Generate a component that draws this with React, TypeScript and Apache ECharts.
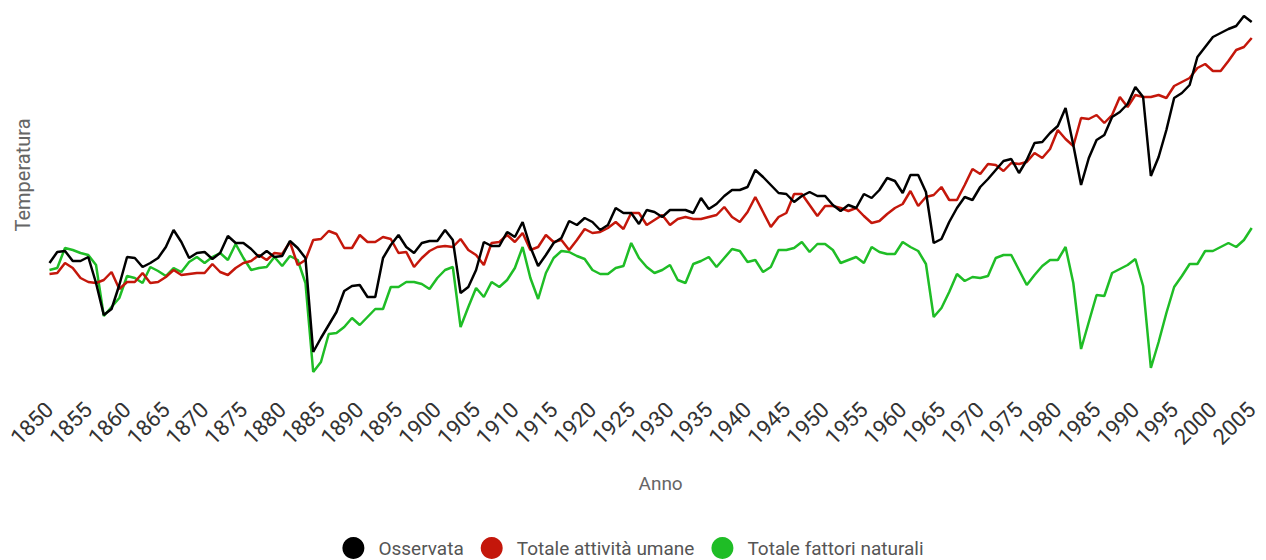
import React, { useEffect, useRef } from "react";
import * as echarts from "echarts";

const years: string[] = Array.from({ length: 156 }, (_, i) => String(1850 + i));

const osservata: number[] = [
  -0.052, -0.008, -0.004, -0.044, -0.044, -0.028, -0.132, -0.26, -0.236, -0.14,
  -0.028, -0.032, -0.068, -0.052, -0.032, 0.012, 0.08, 0.032, -0.032, -0.012,
  -0.008, -0.036, -0.012, 0.056, 0.028, 0.028, 0.004, -0.028, -0.004, -0.028,
  -0.024, 0.036, 0.008, -0.032, -0.408, -0.352, -0.3, -0.248, -0.164, -0.144,
  -0.14, -0.188, -0.188, -0.032, 0.02, 0.06, 0.012, -0.012, 0.028, 0.036,
  0.036, 0.08, 0.04, -0.172, -0.148, -0.08, 0.032, 0.016, 0.016, 0.072,
  0.052, 0.112, 0.012, -0.064, -0.02, 0.028, 0.048, 0.116, 0.1, 0.128,
  0.112, 0.08, 0.1, 0.168, 0.148, 0.148, 0.104, 0.16, 0.152, 0.132,
  0.16, 0.16, 0.16, 0.148, 0.208, 0.164, 0.184, 0.216, 0.24, 0.24,
  0.252, 0.32, 0.292, 0.26, 0.228, 0.224, 0.192, 0.216, 0.232, 0.216,
  0.216, 0.18, 0.156, 0.18, 0.168, 0.224, 0.208, 0.24, 0.288, 0.276,
  0.228, 0.3, 0.3, 0.232, 0.028, 0.044, 0.112, 0.168, 0.212, 0.2,
  0.252, 0.284, 0.32, 0.356, 0.364, 0.308, 0.36, 0.428, 0.432, 0.468,
  0.496, 0.568, 0.42, 0.26, 0.368, 0.44, 0.46, 0.532, 0.552, 0.584,
  0.652, 0.612, 0.296, 0.372, 0.48, 0.608, 0.628, 0.66, 0.772, 0.812,
  0.852, 0.868, 0.884, 0.896, 0.936, 0.912,
];

const attivitaUmane: number[] = [
  -0.096, -0.092, -0.052, -0.072, -0.112, -0.128, -0.132, -0.12, -0.088, -0.156,
  -0.128, -0.128, -0.092, -0.132, -0.128, -0.108, -0.08, -0.1, -0.096, -0.092,
  -0.092, -0.056, -0.088, -0.1, -0.072, -0.052, -0.044, -0.02, -0.04, -0.012,
  -0.016, 0.032, -0.06, -0.04, 0.04, 0.044, 0.076, 0.064, 0.008, 0.008,
  0.06, 0.032, 0.032, 0.052, 0.044, -0.012, -0.008, -0.068, -0.032, -0.004,
  0.012, 0.016, 0.012, 0.044, 0.0, -0.02, -0.06, 0.028, 0.032, 0.06,
  0.032, 0.068, 0.0, 0.012, 0.06, 0.032, 0.04, 0.0, 0.04, 0.084,
  0.068, 0.072, 0.088, 0.112, 0.084, 0.148, 0.148, 0.1, 0.12, 0.14,
  0.1, 0.124, 0.132, 0.124, 0.124, 0.132, 0.14, 0.172, 0.132, 0.112,
  0.152, 0.212, 0.152, 0.092, 0.132, 0.148, 0.224, 0.224, 0.18, 0.136,
  0.176, 0.176, 0.168, 0.156, 0.168, 0.136, 0.108, 0.116, 0.144, 0.168,
  0.184, 0.236, 0.176, 0.212, 0.22, 0.252, 0.2, 0.2, 0.26, 0.324,
  0.304, 0.344, 0.34, 0.316, 0.348, 0.344, 0.352, 0.388, 0.368, 0.404,
  0.48, 0.444, 0.416, 0.528, 0.524, 0.54, 0.508, 0.54, 0.612, 0.572,
  0.62, 0.612, 0.612, 0.62, 0.608, 0.656, 0.672, 0.688, 0.728, 0.744,
  0.716, 0.716, 0.756, 0.8, 0.812, 0.848,
];

const fattoriNaturali: number[] = [
  -0.08, -0.072, 0.008, 0.0, -0.012, -0.02, -0.06, -0.264, -0.228, -0.192,
  -0.104, -0.112, -0.132, -0.068, -0.084, -0.104, -0.072, -0.088, -0.048, -0.028,
  -0.052, -0.028, -0.012, -0.04, 0.024, -0.032, -0.08, -0.072, -0.068, -0.028,
  -0.064, -0.024, -0.04, -0.132, -0.488, -0.448, -0.336, -0.332, -0.308, -0.272,
  -0.3, -0.268, -0.236, -0.236, -0.148, -0.148, -0.128, -0.128, -0.136, -0.156,
  -0.112, -0.08, -0.068, -0.308, -0.228, -0.152, -0.188, -0.128, -0.148, -0.12,
  -0.072, 0.012, -0.112, -0.196, -0.092, -0.032, -0.004, -0.008, -0.024, -0.036,
  -0.08, -0.096, -0.096, -0.072, -0.064, 0.028, -0.032, -0.068, -0.092, -0.08,
  -0.06, -0.12, -0.132, -0.056, -0.044, -0.028, -0.068, -0.032, 0.004, -0.004,
  -0.048, -0.04, -0.088, -0.068, 0.0, 0.0, 0.008, 0.032, -0.008, 0.024,
  0.024, 0.0, -0.052, -0.04, -0.028, -0.052, 0.012, -0.008, -0.016, -0.016,
  0.032, 0.012, -0.004, -0.056, -0.268, -0.232, -0.168, -0.096, -0.124, -0.108,
  -0.112, -0.104, -0.032, -0.02, -0.02, -0.08, -0.14, -0.1, -0.064, -0.04,
  -0.04, 0.012, -0.132, -0.396, -0.288, -0.18, -0.184, -0.092, -0.076, -0.06,
  -0.036, -0.144, -0.472, -0.368, -0.252, -0.148, -0.104, -0.056, -0.056, -0.004,
  -0.004, 0.012, 0.028, 0.012, 0.04, 0.088,
];

const seriesNames = ["Osservata", "Totale attività umane", "Totale fattori naturali"];
const seriesColors = ["#000000", "#c4170b", "#1fbd26"];

export default function App() {
  const ref = useRef<HTMLDivElement>(null);
  useEffect(() => {
    if (!ref.current) return;
    const chart = echarts.init(ref.current, undefined, { renderer: "svg" });
    const font = "Roboto";
    chart.setOption({
      animation: false,
      textStyle: { fontFamily: font },
      grid: { left: 49.5, right: 14.3, top: 10, bottom: 170, containLabel: false },
      xAxis: {
        type: "category",
        data: years,
        boundaryGap: false,
        name: "Anno",
        nameLocation: "middle",
        nameGap: 84,
        nameTextStyle: { fontSize: 19, color: "#666", fontFamily: font, padding: [0, 0, 0, 20] },
        axisLine: { show: false },
        axisTick: { show: false },
        splitLine: { show: false },
        axisLabel: {
          interval: 4,
          rotate: 45,
          margin: 16,
          fontSize: 22,
          color: "#333",
          fontFamily: font,
        },
      },
      yAxis: {
        type: "value",
        min: -0.56,
        max: 0.96,
        name: "Temperatura",
        nameLocation: "middle",
        nameGap: 17,
        nameTextStyle: { fontSize: 20, color: "#666", fontFamily: font, padding: [0, 0, 0, 50] },
        axisLine: { show: false },
        axisTick: { show: false },
        splitLine: { show: false },
        axisLabel: { show: false },
      },
      legend: {
        data: seriesNames,
        left: "center",
        top: 537,
        padding: 0,
        icon: "circle",
        itemWidth: 22,
        itemHeight: 22,
        itemGap: 17,
        textStyle: { fontSize: 19, color: "#555", fontFamily: font, padding: [0, 0, 0, 9] },
      },
      series: [osservata, attivitaUmane, fattoriNaturali].map((d, k) => ({
        name: seriesNames[k],
        type: "line",
        data: d,
        symbol: "none",
        color: seriesColors[k],
        lineStyle: { width: 2.5, color: seriesColors[k] },
        z: 3 - k,
      })),
    });
    return () => chart.dispose();
  }, []);
  return (
    <div
      ref={ref}
      style={{ position: "absolute", left: 0, top: 0, width: 1266, height: 560 }}
    />
  );
}
